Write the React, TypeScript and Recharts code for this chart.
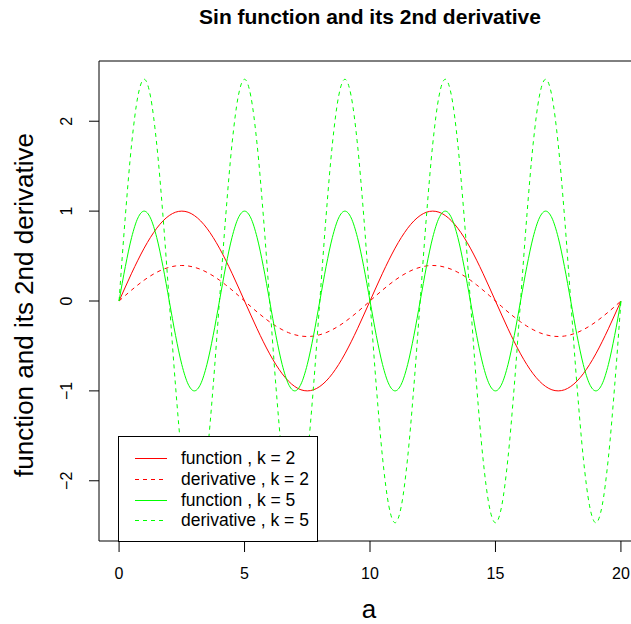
import { LineChart, Line, XAxis, YAxis, ReferenceArea } from 'recharts';

// a from 0 to 20, step 0.25
const aValues = [
  0, 0.25, 0.5, 0.75, 1, 1.25, 1.5, 1.75, 2, 2.25, 2.5, 2.75, 3, 3.25, 3.5, 3.75,
  4, 4.25, 4.5, 4.75, 5, 5.25, 5.5, 5.75, 6, 6.25, 6.5, 6.75, 7, 7.25, 7.5, 7.75,
  8, 8.25, 8.5, 8.75, 9, 9.25, 9.5, 9.75, 10, 10.25, 10.5, 10.75, 11, 11.25, 11.5, 11.75,
  12, 12.25, 12.5, 12.75, 13, 13.25, 13.5, 13.75, 14, 14.25, 14.5, 14.75, 15, 15.25, 15.5, 15.75,
  16, 16.25, 16.5, 16.75, 17, 17.25, 17.5, 17.75, 18, 18.25, 18.5, 18.75, 19, 19.25, 19.5, 19.75,
  20,
];

const functionK2 = [
  0, 0.156, 0.309, 0.454, 0.588, 0.707, 0.809, 0.891, 0.951, 0.988, 1,
  0.988, 0.951, 0.891, 0.809, 0.707, 0.588, 0.454, 0.309, 0.156, 0,
  -0.156, -0.309, -0.454, -0.588, -0.707, -0.809, -0.891, -0.951, -0.988, -1,
  -0.988, -0.951, -0.891, -0.809, -0.707, -0.588, -0.454, -0.309, -0.156, 0,
  0.156, 0.309, 0.454, 0.588, 0.707, 0.809, 0.891, 0.951, 0.988, 1,
  0.988, 0.951, 0.891, 0.809, 0.707, 0.588, 0.454, 0.309, 0.156, 0,
  -0.156, -0.309, -0.454, -0.588, -0.707, -0.809, -0.891, -0.951, -0.988, -1,
  -0.988, -0.951, -0.891, -0.809, -0.707, -0.588, -0.454, -0.309, -0.156, 0,
];

const derivativeK2 = [
  0, 0.062, 0.122, 0.179, 0.232, 0.279, 0.319, 0.352, 0.375, 0.39, 0.395,
  0.39, 0.375, 0.352, 0.319, 0.279, 0.232, 0.179, 0.122, 0.062, 0,
  -0.062, -0.122, -0.179, -0.232, -0.279, -0.319, -0.352, -0.375, -0.39, -0.395,
  -0.39, -0.375, -0.352, -0.319, -0.279, -0.232, -0.179, -0.122, -0.062, 0,
  0.062, 0.122, 0.179, 0.232, 0.279, 0.319, 0.352, 0.375, 0.39, 0.395,
  0.39, 0.375, 0.352, 0.319, 0.279, 0.232, 0.179, 0.122, 0.062, 0,
  -0.062, -0.122, -0.179, -0.232, -0.279, -0.319, -0.352, -0.375, -0.39, -0.395,
  -0.39, -0.375, -0.352, -0.319, -0.279, -0.232, -0.179, -0.122, -0.062, 0,
];

const functionK5 = [
  0, 0.383, 0.707, 0.924, 1, 0.924, 0.707, 0.383, 0, -0.383, -0.707, -0.924, -1, -0.924, -0.707, -0.383,
  0, 0.383, 0.707, 0.924, 1, 0.924, 0.707, 0.383, 0, -0.383, -0.707, -0.924, -1, -0.924, -0.707, -0.383,
  0, 0.383, 0.707, 0.924, 1, 0.924, 0.707, 0.383, 0, -0.383, -0.707, -0.924, -1, -0.924, -0.707, -0.383,
  0, 0.383, 0.707, 0.924, 1, 0.924, 0.707, 0.383, 0, -0.383, -0.707, -0.924, -1, -0.924, -0.707, -0.383,
  0, 0.383, 0.707, 0.924, 1, 0.924, 0.707, 0.383, 0, -0.383, -0.707, -0.924, -1, -0.924, -0.707, -0.383,
  0,
];

const derivativeK5 = [
  0, 0.945, 1.744, 2.279, 2.467, 2.279, 1.744, 0.945, 0, -0.945, -1.744, -2.279, -2.467, -2.279, -1.744, -0.945,
  0, 0.945, 1.744, 2.279, 2.467, 2.279, 1.744, 0.945, 0, -0.945, -1.744, -2.279, -2.467, -2.279, -1.744, -0.945,
  0, 0.945, 1.744, 2.279, 2.467, 2.279, 1.744, 0.945, 0, -0.945, -1.744, -2.279, -2.467, -2.279, -1.744, -0.945,
  0, 0.945, 1.744, 2.279, 2.467, 2.279, 1.744, 0.945, 0, -0.945, -1.744, -2.279, -2.467, -2.279, -1.744, -0.945,
  0, 0.945, 1.744, 2.279, 2.467, 2.279, 1.744, 0.945, 0, -0.945, -1.744, -2.279, -2.467, -2.279, -1.744, -0.945,
  0,
];

const xTicks = [0, 5, 10, 15, 20];
const yTicks = [-2, -1, 0, 1, 2];

const series = [
  { key: 'f2', label: 'function , k = 2', color: '#ff0000', dash: undefined },
  { key: 'd2', label: 'derivative , k = 2', color: '#ff0000', dash: '4 4' },
  { key: 'f5', label: 'function , k = 5', color: '#00ff00', dash: undefined },
  { key: 'd5', label: 'derivative , k = 5', color: '#00ff00', dash: '4 4' },
];

// legend row offsets inside the box
const legendRowTops = [11, 32, 53, 73];

const data = aValues.map((a, i) => ({
  a,
  f2: functionK2[i],
  d2: derivativeK2[i],
  f5: functionK5[i],
  d5: derivativeK5[i],
}));

const FONT = '"Liberation Sans", Arial, Helvetica, sans-serif';

const XTick = ({ x, y, payload }: any) => (
  <text x={x} y={y + 25} textAnchor="middle" fontSize={16} fontFamily={FONT} fill="#000">
    {payload.value}
  </text>
);

const YTick = ({ x, y, payload }: any) => {
  const bx = x - 15;
  const label = String(payload.value).replace('-', '\u2212');
  return (
    <text x={bx} y={y} transform={`rotate(-90, ${bx}, ${y})`} textAnchor="middle" fontSize={16} fontFamily={FONT} fill="#000">
      {label}
    </text>
  );
};

export default function App() {
  return (
    <div style={{ position: 'absolute', left: 0, top: 0, width: 631, height: 624, overflow: 'hidden', background: '#fff', fontFamily: FONT }}>
      <LineChart width={660} height={624} data={data} margin={{ top: 61, right: 19, left: 0, bottom: 0 }}>
        <XAxis
          dataKey="a"
          type="number"
          domain={[-0.8, 20.8]}
          ticks={xTicks}
          axisLine={false}
          tickSize={11}
          tickLine={{ stroke: '#000' }}
          tick={<XTick />}
          height={83}
          allowDataOverflow
        />
        <YAxis
          type="number"
          domain={[-2.67, 2.67]}
          ticks={yTicks}
          axisLine={false}
          tickSize={10}
          tickLine={{ stroke: '#000' }}
          tick={<YTick />}
          width={99}
          allowDataOverflow
        />
        <ReferenceArea x1={-0.8} x2={20.8} y1={-2.67} y2={2.67} fill="none" stroke="#000" strokeWidth={1} ifOverflow="visible" />
        {series.map((s) => (
          <Line
            key={s.key}
            dataKey={s.key}
            type="monotone"
            stroke={s.color}
            strokeWidth={1}
            strokeDasharray={s.dash}
            dot={false}
            isAnimationActive={false}
          />
        ))}
      </LineChart>

      <div style={{ position: 'absolute', left: 0, width: 740, top: 5, textAlign: 'center', fontWeight: 'bold', fontSize: 21, whiteSpace: 'nowrap' }}>
        Sin function and its 2nd derivative
      </div>
      <div style={{ position: 'absolute', left: 369, top: 609, transform: 'translate(-50%, -50%)', fontSize: 26 }}>a</div>
      <div
        style={{
          position: 'absolute',
          left: 24,
          top: 305,
          transform: 'translate(-50%, -50%) rotate(-90deg)',
          fontSize: 26,
          whiteSpace: 'nowrap',
        }}
      >
        function and its 2nd derivative
      </div>

      <div
        style={{
          position: 'absolute',
          left: 118,
          top: 436,
          width: 198,
          height: 104,
          border: '1px solid #000',
          background: '#fff',
          fontSize: 17.5,
        }}
      >
        {series.map((s, i) => (
          <div key={s.key} style={{ position: 'absolute', left: 0, top: legendRowTops[i], height: 20, display: 'flex', alignItems: 'center' }}>
            <svg width={62} height={20} style={{ display: 'block' }}>
              <line x1={16} x2={48} y1={10.5} y2={10.5} stroke={s.color} strokeWidth={1} strokeDasharray={s.dash} />
            </svg>
            <span style={{ whiteSpace: 'nowrap' }}>{s.label}</span>
          </div>
        ))}
      </div>
    </div>
  );
}
